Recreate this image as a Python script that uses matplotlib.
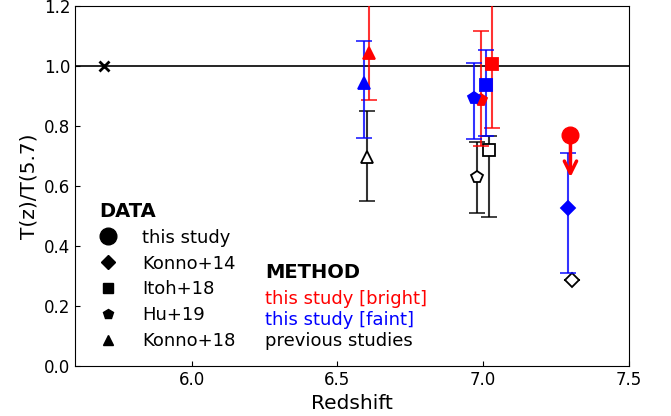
import numpy as np
import matplotlib.pyplot as plt
from matplotlib.lines import Line2D

# reference point
z_ref = [5.7]
t_ref = [1.0]

# Konno+18 (triangles) at z=6.6
k18_z = [6.61, 6.59, 6.60]            # bright, faint, previous
k18_t = [1.043, 0.943, 0.697]
k18_lo = [0.887, 0.76, 0.55]
k18_hi = [1.30, 1.083, 0.85]

# Hu+19 (pentagons) at z~7.0
hu_z = [6.992, 6.968, 6.979]
hu_t = [0.887, 0.893, 0.63]
hu_lo = [0.733, 0.757, 0.51]
hu_hi = [1.117, 1.01, 0.747]

# Itoh+18 (squares) at z~7.0
it_z = [7.03, 7.01, 7.02]
it_t = [1.007, 0.937, 0.72]
it_lo = [0.793, 0.767, 0.497]
it_hi = [1.30, 1.053, 0.767]

# Konno+14 (diamonds) at z=7.3, faint and previous
k14_z = [7.29, 7.305]
k14_t = [0.527, 0.287]
k14_lo = [0.31, 0.287]
k14_hi = [0.71, 0.287]

# this study, bright, upper limit at z=7.3
ts_z = [7.30]
ts_t = [0.77]
ts_lim = [0.62]

colors = ['red', 'blue', 'black']

fig = plt.figure(figsize=(6.71, 4.16), dpi=100)
ax = fig.add_axes([0.112, 0.12, 0.825, 0.866])

ax.axhline(1.0, color='black', lw=1.2, zorder=1)
ax.plot(z_ref, t_ref, 'x', color='black', ms=7, mew=2)

def draw(zs, ts, lo, hi, marker, ms, cols):
    for i in range(len(zs)):
        c = cols[i]
        fc = 'white' if c == 'black' else c
        eb = ax.errorbar(zs[i], ts[i], yerr=[[ts[i] - lo[i]], [hi[i] - ts[i]]],
                         fmt=marker, color=c, mfc=fc, mec=c, ms=ms, mew=1.3,
                         ecolor=c, elinewidth=1.5, capsize=6, capthick=1.5,
                         zorder=3 if c != 'black' else 2)
        for art in eb.lines[1] + eb.lines[2]:
            art.set_alpha(0.8)

draw(k18_z, k18_t, k18_lo, k18_hi, '^', 8.5, colors)
draw(hu_z, hu_t, hu_lo, hu_hi, 'p', 8.5, colors)
draw(it_z, it_t, it_lo, it_hi, 's', 8.5, colors)
draw(k14_z, k14_t, k14_lo, k14_hi, 'D', 7, ['blue', 'black'])

ax.annotate('', xy=(ts_z[0], ts_lim[0]), xytext=(ts_z[0], ts_t[0]),
            arrowprops=dict(arrowstyle='->', color='red', lw=2.5,
                            mutation_scale=22), zorder=4)
ax.plot(ts_z, ts_t, 'o', color='red', ms=12, zorder=5)

ax.set_xlim(5.6, 7.5)
ax.set_ylim(0.0, 1.2)
ax.set_xticks([6.0, 6.5, 7.0, 7.5])
ax.set_yticks(np.arange(0, 1.21, 0.2))
ax.tick_params(direction='in', labelsize=12)
ax.set_xlabel('Redshift', fontsize=14.5)
ax.set_ylabel('T(z)/T(5.7)', fontsize=14.5)

# DATA legend
handles = [Line2D([], [], ls='', marker=m, color='black', ms=s)
           for m, s in [('o', 12), ('D', 7.5), ('s', 7), ('p', 7.5), ('^', 7.5)]]
labels = ['this study', 'Konno+14', 'Itoh+18', 'Hu+19', 'Konno+18']
leg1 = ax.legend(handles, labels, loc='lower left', bbox_to_anchor=(0.014, 0.0),
                 frameon=False, fontsize=13, title='DATA',
                 title_fontproperties={'weight': 'bold', 'size': 14},
                 alignment='left', handlelength=1.0, handletextpad=1.4,
                 labelspacing=0.43)
ax.add_artist(leg1)

# METHOD legend
mh = [Line2D([], [], ls='') for _ in range(3)]
leg2 = ax.legend(mh, ['this study [bright]', 'this study [faint]', 'previous studies'],
                 loc='lower left', bbox_to_anchor=(0.314, 0.0), frameon=False,
                 fontsize=13, handlelength=0, handletextpad=0,
                 labelcolor=colors, labelspacing=0.15)
ax.text(0.343, 0.261, 'METHOD', transform=ax.transAxes, fontsize=14,
        fontweight='bold', ha='left', va='center')

plt.savefig('out.png', dpi=100)
